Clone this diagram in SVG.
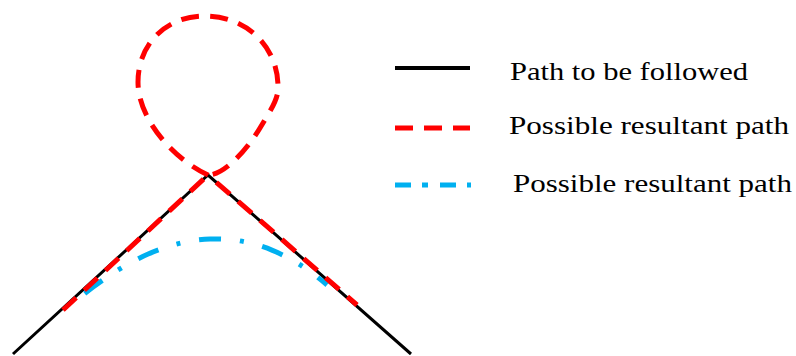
<svg xmlns="http://www.w3.org/2000/svg" width="796" height="356" viewBox="0 0 796 356">
<style>
.black{fill:none;stroke:#000;stroke-width:3}
.red{fill:none;stroke:#FF0000;stroke-width:5;stroke-dasharray:18 11}
.blue{fill:none;stroke:#00B0F0;stroke-width:5}
.blue-arc{stroke-dasharray:11 19 4 19 11 0}
.blue-leg{stroke-dasharray:16 11 6 12}
.lbl{font-family:"Liberation Serif","DejaVu Serif",serif;font-size:26px;fill:#000}
</style>
<rect width="796" height="356" fill="#fff"/>
<g id="paths">
<g id="followed"><path class="black" d="M13 354 L208 175 L411 354"/></g>
<g id="blue-path"><path class="blue blue-arc" d="M210 239 Q149 241.5 83 295 M210 239 Q271 236.5 327 285"/></g>
<g id="red-path"><path class="red" d="M63 310 L208 175 C225 175 248 148 260 128 C272 108 279 98 278 85 C277 45 245 16 205 16 C165 16 138 45 138 82 C138 120 175 160 208 175 L357 305"/></g>
</g>
<g id="legend">
<g id="legend-black"><line class="black" x1="395" y1="68" x2="470" y2="68" style="stroke-width:4"/><text class="lbl" x="510" y="80" textLength="238" lengthAdjust="spacingAndGlyphs">Path to be followed</text></g>
<g id="legend-red"><line class="red" x1="395" y1="128" x2="470" y2="128"/><text class="lbl" x="509" y="134" textLength="280" lengthAdjust="spacingAndGlyphs">Possible resultant path</text></g>
<g id="legend-blue"><line class="blue blue-leg" x1="395" y1="185" x2="471" y2="185"/><text class="lbl" x="513" y="192" textLength="279" lengthAdjust="spacingAndGlyphs">Possible resultant path</text></g>
</g>
</svg>
